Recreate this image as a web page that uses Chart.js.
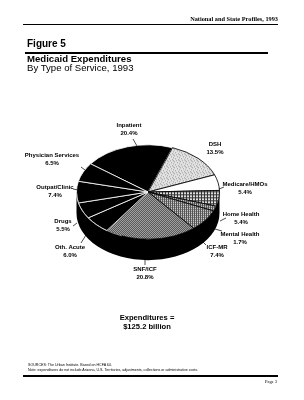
<!DOCTYPE html>
<html>
<head>
<meta charset="utf-8">
<script src="https://cdn.jsdelivr.net/npm/chart.js@4"></script>
<style>
  body { margin: 0; background: #fff; }
  #page { position: relative; width: 304px; height: 400px; overflow: hidden; font-family: "Liberation Sans", Arial, sans-serif; color: #000; }
  #pieChart { position: absolute; left: 0; top: 0; }
  .t { position: absolute; white-space: nowrap; }
  .rule { position: absolute; background: #000; }
  .lbl { position: absolute; width: 100px; text-align: center; font-weight: bold; font-size: 6px; line-height: 7.6px; }
</style>
</head>
<body>
<div id="page">
  <canvas id="pieChart" width="304" height="400"></canvas>
  <div class="t" style="right:26px; top:15px; font-family:'Liberation Serif',serif; font-weight:bold; font-size:6.3px;">National and State Profiles, 1993</div>
  <div class="rule" style="left:23px; top:24px; width:255px; height:1px;"></div>
  <div class="t" style="left:27px; top:38px; font-weight:bold; font-size:10px;">Figure 5</div>
  <div class="rule" style="left:25px; top:52px; width:243px; height:2px;"></div>
  <div class="t" style="left:27px; top:53px; font-weight:bold; font-size:9.6px;">Medicaid Expenditures</div>
  <div class="t" style="left:27px; top:62px; font-size:9.6px;">By Type of Service, 1993</div>
  <div class="t" style="left:97px; width:100px; text-align:center; top:314px; font-weight:bold; font-size:7.6px; line-height:8.5px;">Expenditures =<br>$125.2 billion</div>
  <div class="t" style="left:28px; top:363px; font-size:3.6px; line-height:5px;">SOURCES: The Urban Institute. Based on HCFA 64.<br>Note: expenditures do not include Arizona, U.S. Territories, adjustments, collections or administrative costs.</div>
  <div class="rule" style="left:23px; top:375px; width:255px; height:1.5px;"></div>
  <div class="t" style="right:27px; top:379px; font-family:'Liberation Serif',serif; font-size:4.5px;">Page 3</div>
  <div id="labels"></div>
</div>
<script>
// 支出类别（从 Inpatient 开始，顺时针）
const categories = ['Inpatient', 'DSH', 'Medicare/HMOs', 'Home Health', 'Mental Health', 'ICF-MR', 'SNF/ICF', 'Oth. Acute', 'Drugs', 'Outpat/Clinic', 'Physician Services'];
const shares = [20.4, 13.5, 5.4, 5.4, 1.7, 7.4, 20.8, 6.0, 5.5, 7.4, 6.5];

// 标签位置与引线（版面用，不是数据）
const labelPos = [[129, 126], [215, 145], [245, 185], [241, 215], [240, 235], [217, 248], [145, 270], [70, 248], [63, 222], [55, 188], [52, 156]];
const leaders = [[133, 139, 137, 146], [219, 189, 224, 187], [220, 221, 226, 218], [215, 229, 222, 231], [201, 240, 206, 245], [145, 258, 145, 265], [86, 235, 81, 243], [77, 223, 73, 226], [73, 189, 78, 190], [81, 167, 85, 170]];

const TILT = 0.66;   // 椭圆压扁比例
const DEPTH = 21;    // 侧面厚度(px)

const makePattern = (w, h, draw) => {
    const c = document.createElement('canvas');
    c.width = w; c.height = h;
    const g = c.getContext('2d');
    draw(g);
    const p = document.createElement('canvas').getContext('2d').createPattern(c, 'repeat');
    p.setTransform(new DOMMatrix().scale(1, 1 / TILT));
    return p;
}

const stipple = makePattern(6, 6, g => {
    g.fillStyle = '#e2e2e2'; g.fillRect(0, 0, 6, 6);
    g.fillStyle = '#9a9a9a';
    [[0, 0], [3, 1], [5, 2], [1, 3], [4, 4], [2, 5], [5, 5]].forEach(([x, y]) => g.fillRect(x, y, 1, 1));
});
const fineGrid = makePattern(2, 2, g => {
    g.fillStyle = '#fff'; g.fillRect(0, 0, 2, 2);
    g.fillStyle = '#555'; g.fillRect(0, 0, 2, 1); g.fillRect(0, 0, 1, 2);
});
const hLines = makePattern(3, 3, g => {
    g.fillStyle = '#ddd'; g.fillRect(0, 0, 3, 3);
    g.fillStyle = '#333'; g.fillRect(0, 0, 3, 1); g.fillRect(0, 1, 1, 2);
});
const checker = makePattern(2, 2, g => {
    g.fillStyle = '#d8d8d8'; g.fillRect(0, 0, 2, 2);
    g.fillStyle = '#222'; g.fillRect(0, 0, 1, 1); g.fillRect(1, 1, 1, 1);
});

const fills = ['#000', stipple, '#fff', hLines, fineGrid, fineGrid, checker, '#000', '#000', '#000', '#000'];
const borders = ['#fff', '#000', '#000', '#000', '#000', '#000', '#000', '#fff', '#fff', '#fff', '#fff'];

// 把饼图压成椭圆并画出侧面
const tiltPlugin = {
    id: 'tilt',
    beforeDatasetsDraw(chart) {
        const {ctx, chartArea} = chart;
        const cx = (chartArea.left + chartArea.right) / 2;
        const cy = (chartArea.top + chartArea.bottom) / 2;
        const r = chart.getDatasetMeta(0).data[0].outerRadius;
        ctx.save();
        ctx.translate(cx, cy);
        ctx.scale(1, TILT);
        ctx.translate(-cx, -cy);
        const d = DEPTH / TILT;
        ctx.fillStyle = '#000';
        ctx.beginPath();
        ctx.arc(cx, cy + d, r, 0, Math.PI);
        ctx.lineTo(cx - r, cy);
        ctx.arc(cx, cy, r, Math.PI, 0, true);
        ctx.closePath();
        ctx.fill();
    },
    afterDatasetsDraw(chart) {
        const {ctx, chartArea} = chart;
        const cx = (chartArea.left + chartArea.right) / 2;
        const cy = (chartArea.top + chartArea.bottom) / 2;
        const r = chart.getDatasetMeta(0).data[0].outerRadius;
        // 左前方顶面边缘的细白线
        ctx.strokeStyle = '#bbb';
        ctx.lineWidth = 0.8;
        ctx.beginPath();
        ctx.arc(cx, cy, r, Math.PI * 0.62, Math.PI);
        ctx.stroke();
        ctx.restore();
    },
    afterDraw(chart) {
        const ctx = chart.ctx;
        ctx.save();
        ctx.strokeStyle = '#000';
        ctx.lineWidth = 0.7;
        leaders.forEach(([x1, y1, x2, y2]) => {
            ctx.beginPath();
            ctx.moveTo(x1, y1);
            ctx.lineTo(x2, y2);
            ctx.stroke();
        });
        ctx.restore();
    }
};

const drawChart = () => {
    const ctx = document.getElementById('pieChart').getContext('2d');
    new Chart(ctx, {
        type: 'pie',
        data: {
            labels: categories,
            datasets: [{
                data: shares,
                backgroundColor: fills,
                borderColor: borders,
                borderWidth: 1
            }]
        },
        options: {
            responsive: false,
            animation: false,
            rotation: -53.4,
            layout: {padding: {left: 76, right: 84, top: 120, bottom: 136}},
            plugins: {legend: {display: false}, tooltip: {enabled: false}}
        },
        plugins: [tiltPlugin]
    });

    const box = document.getElementById('labels');
    categories.forEach((name, i) => {
        const d = document.createElement('div');
        d.className = 'lbl';
        d.style.left = (labelPos[i][0] - 50) + 'px';
        d.style.top = (labelPos[i][1] - 4) + 'px';
        d.innerHTML = name + '<br>' + shares[i].toFixed(1) + '%';
        box.appendChild(d);
    });
}

window.onload = drawChart;
</script>
</body>
</html>
